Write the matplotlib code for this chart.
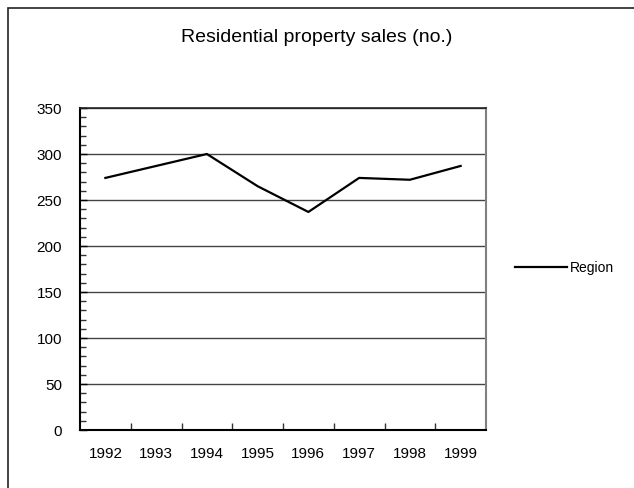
import matplotlib
matplotlib.use('Agg')
import matplotlib.pyplot as plt
from matplotlib.patches import Rectangle
from matplotlib.ticker import MultipleLocator, FixedLocator, NullFormatter

plt.rcParams['font.family'] = ['Liberation Sans', 'DejaVu Sans']

years = ['1992', '1993', '1994', '1995', '1996', '1997', '1998', '1999']
sales = [274, 287, 300, 265, 237, 274, 272, 287]

fig = plt.figure(figsize=(6.34, 4.88), dpi=100)
ax = fig.add_axes([80/634, 1-430/488, 406/634, 322/488])

# outer frame (only top and left show in the original)
fig.patches.append(Rectangle((8/634, -0.05), 1.0, 1 - 8/488 + 0.05,
                             transform=fig.transFigure, fill=False,
                             edgecolor='#222222', linewidth=1.2))

x = list(range(len(years)))
ax.plot(x, sales, color='black', linewidth=1.6, label='Region')

ax.set_xlim(-0.5, len(years) - 0.5)
ax.set_ylim(0, 350)
ax.set_xticks(x)
ax.set_xticklabels(years, fontsize=11)
ax.tick_params(axis='x', which='major', length=0, pad=12)
ax.xaxis.set_minor_locator(FixedLocator([i + 0.5 for i in range(len(years) - 1)]))
ax.tick_params(axis='x', which='minor', direction='in', length=5, width=1, color='#333333')

ax.yaxis.set_major_locator(MultipleLocator(50))
ax.yaxis.set_minor_locator(MultipleLocator(10))
ax.yaxis.set_minor_formatter(NullFormatter())
ax.tick_params(axis='y', which='major', direction='in', length=5, width=1, labelsize=11, pad=13)
ax.tick_params(axis='y', which='minor', direction='in', length=4, width=1, color='#333333')

ax.grid(axis='y', which='major', color='#444444', linewidth=1)
ax.set_axisbelow(True)

ax.spines['left'].set_linewidth(1.5)
ax.spines['bottom'].set_linewidth(1.5)
ax.spines['top'].set_color('#222222')
ax.spines['top'].set_linewidth(1.2)
ax.spines['right'].set_color('#808080')
ax.spines['right'].set_linewidth(1.5)

fig.text(317/634, 1 - 37/488, 'Residential property sales (no.)',
         ha='center', va='center', fontsize=14)

ax.legend(loc='center left', bbox_to_anchor=(515/634, 1 - 268/488),
          bbox_transform=fig.transFigure, frameon=False, fontsize=10,
          handlelength=3.75, handletextpad=0.2, borderpad=0, borderaxespad=0)

fig.savefig('out.png', dpi=100)
